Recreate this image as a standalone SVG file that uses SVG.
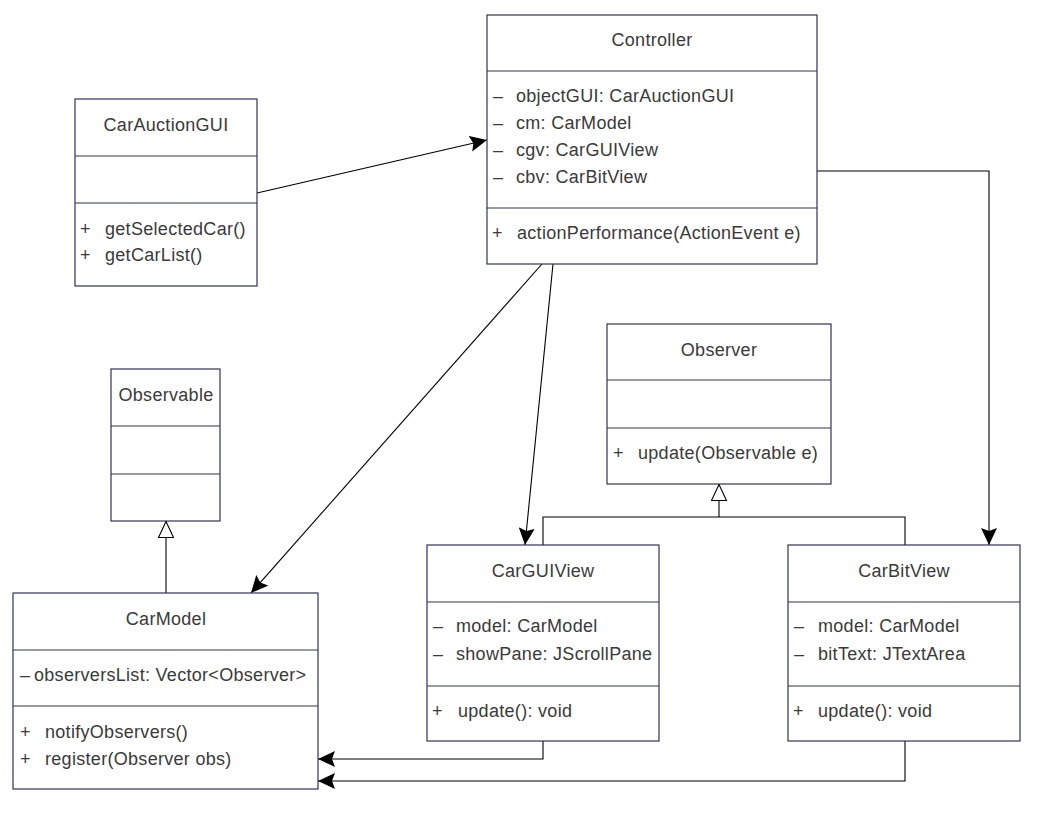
<svg xmlns="http://www.w3.org/2000/svg" width="1042" height="814" viewBox="0 0 1042 814">
<style>
.box{fill:#fff;stroke:#2f3453;stroke-width:1.2}
.div{stroke:#2f3453;stroke-width:1.2}
text{font-family:"Liberation Sans",Arial,sans-serif;font-size:18px;fill:#3a3a3a;letter-spacing:0.3px}
.t{text-anchor:middle}
.c{fill:none;stroke:#000;stroke-width:1.1}
</style>
<defs>
<marker id="arr" markerUnits="userSpaceOnUse" viewBox="0 0 17 16" refX="17" refY="8" markerWidth="17" markerHeight="16" orient="auto">
<path d="M0,0 L17,8 L0,16 L3,8 Z" fill="#000"/>
</marker>
<marker id="tri" markerUnits="userSpaceOnUse" viewBox="0 0 17 16" refX="17" refY="8" markerWidth="17" markerHeight="16" orient="auto">
<path d="M0.5,0.5 L16.5,8 L0.5,15.5 Z" fill="#fff" stroke="#000" stroke-width="1.1"/>
</marker>
</defs>
<g id="connectors">
<line class="c" x1="257" y1="193" x2="487" y2="140" marker-end="url(#arr)"/>
<line class="c" x1="542" y1="264" x2="251" y2="593" marker-end="url(#arr)"/>
<line class="c" x1="553" y1="264" x2="525" y2="545" marker-end="url(#arr)"/>
<polyline class="c" points="817,171 989,171 989,545" marker-end="url(#arr)"/>
<polyline class="c" points="543,741 543,759 318,759" marker-end="url(#arr)"/>
<polyline class="c" points="905,741 905,781 318,781" marker-end="url(#arr)"/>
<line class="c" x1="166" y1="593" x2="166" y2="521" marker-end="url(#tri)"/>
<polyline class="c" points="543,545 543,517 905,517 905,545"/>
<line class="c" x1="719" y1="517" x2="719" y2="484" marker-end="url(#tri)"/>
</g>
<g id="Controller">
<rect class="box" x="487" y="15" width="330" height="249"/>
<line class="div" x1="487" y1="71" x2="817" y2="71"/>
<line class="div" x1="487" y1="208" x2="817" y2="208"/>
<text class="t" x="652" y="46">Controller</text>
<text x="493" y="102">–</text><text x="516" y="102">objectGUI: CarAuctionGUI</text>
<text x="493" y="129">–</text><text x="516" y="129">cm: CarModel</text>
<text x="493" y="156">–</text><text x="516" y="156">cgv: CarGUIView</text>
<text x="493" y="183">–</text><text x="516" y="183">cbv: CarBitView</text>
<text x="492" y="239">+</text><text x="517" y="239">actionPerformance(ActionEvent e)</text>
</g>
<g id="CarAuctionGUI">
<rect class="box" x="75" y="99" width="182" height="187"/>
<line class="div" x1="75" y1="156" x2="257" y2="156"/>
<line class="div" x1="75" y1="203" x2="257" y2="203"/>
<text class="t" x="166" y="131">CarAuctionGUI</text>
<text x="80" y="235">+</text><text x="105" y="235">getSelectedCar()</text>
<text x="80" y="261">+</text><text x="105" y="261">getCarList()</text>
</g>
<g id="Observable">
<rect class="box" x="111" y="369" width="109" height="152"/>
<line class="div" x1="111" y1="426" x2="220" y2="426"/>
<line class="div" x1="111" y1="474" x2="220" y2="474"/>
<text class="t" x="166" y="401">Observable</text>
</g>
<g id="CarModel">
<rect class="box" x="13" y="593" width="305" height="196"/>
<line class="div" x1="13" y1="650" x2="318" y2="650"/>
<line class="div" x1="13" y1="706" x2="318" y2="706"/>
<text class="t" x="166" y="625">CarModel</text>
<text x="20" y="681">–</text><text x="34" y="681">observersList: Vector&lt;Observer&gt;</text>
<text x="20" y="738">+</text><text x="45" y="738">notifyObservers()</text>
<text x="20" y="765">+</text><text x="45" y="765">register(Observer obs)</text>
</g>
<g id="Observer">
<rect class="box" x="607" y="324" width="224" height="160"/>
<line class="div" x1="607" y1="380" x2="831" y2="380"/>
<line class="div" x1="607" y1="428" x2="831" y2="428"/>
<text class="t" x="719" y="356">Observer</text>
<text x="613" y="459">+</text><text x="638" y="459">update(Observable e)</text>
</g>
<g id="CarGUIView">
<rect class="box" x="427" y="545" width="232" height="196"/>
<line class="div" x1="427" y1="602" x2="659" y2="602"/>
<line class="div" x1="427" y1="686" x2="659" y2="686"/>
<text class="t" x="543" y="577">CarGUIView</text>
<text x="433" y="632">–</text><text x="456" y="632">model: CarModel</text>
<text x="433" y="660">–</text><text x="456" y="660">showPane: JScrollPane</text>
<text x="432" y="717">+</text><text x="458" y="717">update(): void</text>
</g>
<g id="CarBitView">
<rect class="box" x="788" y="545" width="232" height="196"/>
<line class="div" x1="788" y1="602" x2="1020" y2="602"/>
<line class="div" x1="788" y1="686" x2="1020" y2="686"/>
<text class="t" x="904" y="577">CarBitView</text>
<text x="794" y="632">–</text><text x="818" y="632">model: CarModel</text>
<text x="794" y="660">–</text><text x="818" y="660">bitText: JTextArea</text>
<text x="793" y="717">+</text><text x="818" y="717">update(): void</text>
</g>
</svg>
